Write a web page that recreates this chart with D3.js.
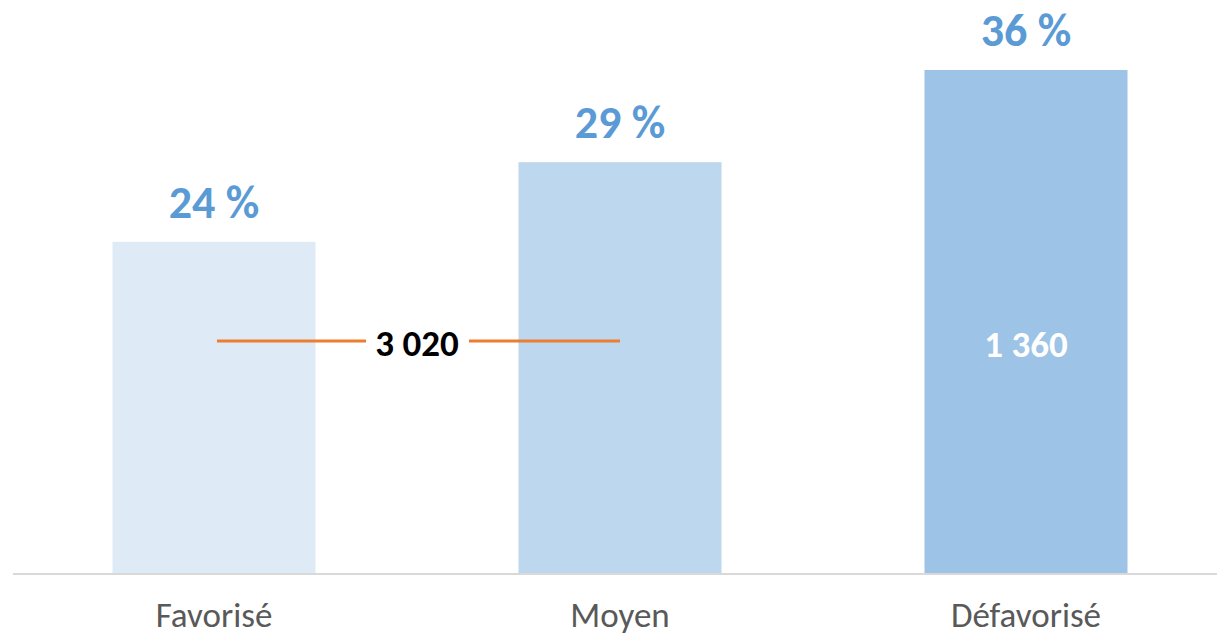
<!DOCTYPE html>
<html>
<head>
<meta charset="utf-8">
<script src="https://cdn.jsdelivr.net/npm/d3@7"></script>
<style>
  html, body { margin: 0; padding: 0; background: #fff; }
  svg { display: block; font-family: Calibri, Carlito, Lato, "Open Sans", sans-serif; }
</style>
</head>
<body>
<div id="chart"></div>
<script>
var categories = ["Favorisé", "Moyen", "Défavorisé"];
var shares = [23.7, 29.4, 36.0];
var barColors = ["#deeaf6", "#bdd7ee", "#9dc3e6"];
// counts shown inside the bars (orange bracket joins the first two groups)
var countLabels = ["3 020", "1 360"];
var countLevel = 16.6;

var width = 1217,
    height = 637;

var svg = d3.select("#chart").append("svg")
    .attr("width", width)
    .attr("height", height);

var x = d3.scaleBand()
    .domain(categories)
    .range([11, 1229])
    .paddingInner(0.5)
    .paddingOuter(0.25);

var y = d3.scaleLinear()
    .domain([0, 36])
    .range([573, 70]);

svg.append("g").selectAll("rect")
    .data(shares)
  .enter().append("rect")
    .attr("x", function (d, i) { return x(categories[i]); })
    .attr("y", function (d) { return y(d); })
    .attr("width", x.bandwidth())
    .attr("height", function (d) { return y(0) - y(d); })
    .attr("fill", function (d, i) { return barColors[i]; });

// baseline
svg.append("line")
    .attr("x1", 13).attr("x2", width)
    .attr("y1", y(0) + 1).attr("y2", y(0) + 1)
    .attr("stroke", "#d9d9d9")
    .attr("stroke-width", 2);

// percent labels
svg.append("g").selectAll("text")
    .data(shares)
  .enter().append("text")
    .attr("x", function (d, i) { return x(categories[i]) + x.bandwidth() / 2; })
    .attr("y", function (d) { return y(d) - 24; })
    .attr("text-anchor", "middle")
    .attr("fill", "#5b9bd5")
    .attr("font-weight", "bold")
    .attr("font-size", 46)
    .text(function (d) { return Math.round(d) + " %"; });

// category labels
svg.append("g").selectAll("text")
    .data(categories)
  .enter().append("text")
    .attr("x", function (d) { return x(d) + x.bandwidth() / 2; })
    .attr("y", 627)
    .attr("text-anchor", "middle")
    .attr("fill", "#595959")
    .attr("font-size", 35)
    .text(function (d) { return d; });

// orange bracket between Favorisé and Moyen
var cx0 = x(categories[0]) + x.bandwidth() / 2,
    cx1 = x(categories[1]) + x.bandwidth() / 2,
    ly = y(countLevel);

svg.append("line")
    .attr("x1", cx0 + 3).attr("x2", cx1)
    .attr("y1", ly).attr("y2", ly)
    .attr("stroke", "#ed7d31")
    .attr("stroke-width", 3);

svg.append("rect")
    .attr("x", (cx0 + cx1) / 2 - 51)
    .attr("y", ly - 22)
    .attr("width", 103)
    .attr("height", 44)
    .attr("fill", "#fff");

svg.append("text")
    .attr("x", (cx0 + cx1) / 2)
    .attr("y", ly + 15)
    .attr("text-anchor", "middle")
    .attr("font-weight", "bold")
    .attr("font-size", 37)
    .attr("fill", "#000")
    .text(countLabels[0]);

svg.append("text")
    .attr("x", x(categories[2]) + x.bandwidth() / 2)
    .attr("y", ly + 16)
    .attr("text-anchor", "middle")
    .attr("font-weight", "bold")
    .attr("font-size", 37)
    .attr("fill", "#fff")
    .text(countLabels[1]);
</script>
</body>
</html>
